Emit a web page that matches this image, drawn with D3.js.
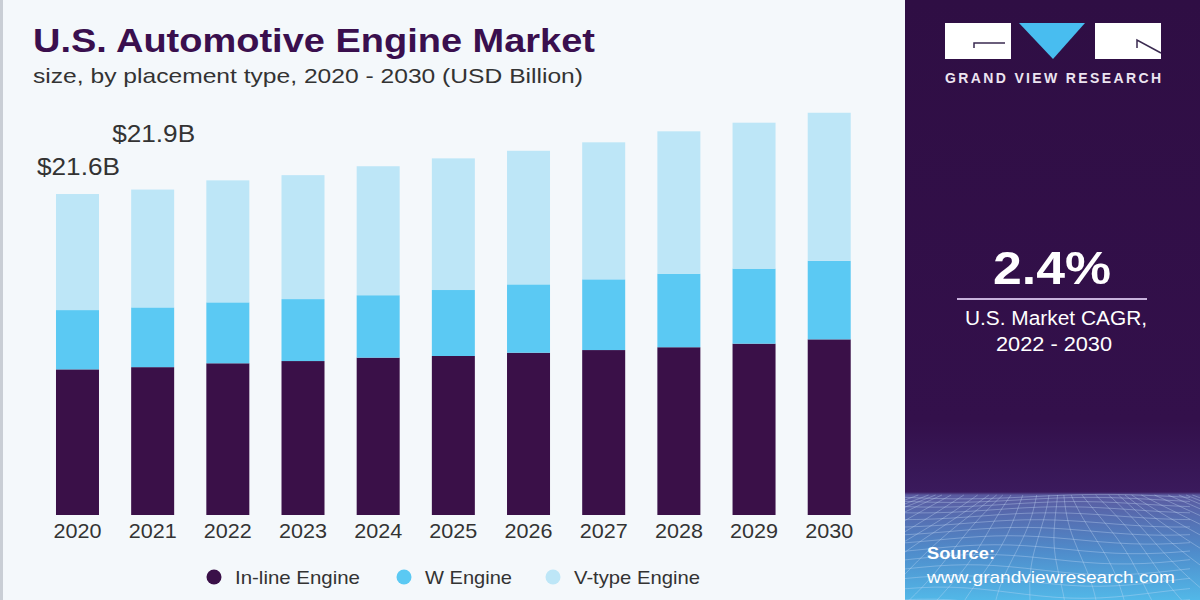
<!DOCTYPE html>
<html>
<head>
<meta charset="utf-8">
<script src="https://cdn.jsdelivr.net/npm/d3@7"></script>
<style>
html,body{margin:0;padding:0;background:#f4f8fb;}
svg{display:block;}
text{font-family:"Liberation Sans",Arial,sans-serif;}
</style>
</head>
<body>
<svg id="chart" width="1200" height="600"></svg>
<script>
// ---- data ----
const years = ["2020","2021","2022","2023","2024","2025","2026","2027","2028","2029","2030"];
const inlineEngine = [9.80, 9.95, 10.21, 10.36, 10.59, 10.70, 10.92, 11.10, 11.29, 11.53, 11.82];
const wEngine      = [3.99, 4.02, 4.10, 4.17, 4.20, 4.44, 4.60, 4.76, 4.95, 5.05, 5.29];
const vtypeEngine  = [7.81, 7.93, 8.21, 8.34, 8.68, 8.86, 8.99, 9.22, 9.58, 9.82, 9.96];
const seriesNames = ["In-line Engine","W Engine","V-type Engine"];
const seriesKeys = ["inline","w","vtype"];
const seriesColors = ["#3a1048","#5bc9f3","#bde6f7"];
const valueLabels = [{year:"2020", text:"$21.6B", lift:19},{year:"2021", text:"$21.9B", lift:48}];

const table = years.map((y,i)=>({year:y, inline:inlineEngine[i], w:wEngine[i], vtype:vtypeEngine[i]}));

const svg = d3.select("#chart");

// background
svg.append("rect").attr("x",0).attr("y",0).attr("width",1200).attr("height",600).attr("fill","#f4f8fb");
svg.append("rect").attr("x",0).attr("y",0).attr("width",3).attr("height",600).attr("fill","#c9ced5");

// ---- right panel ----
const defs = svg.append("defs");
defs.append("clipPath").attr("id","panelClip").append("rect").attr("x",905).attr("y",0).attr("width",295).attr("height",600);
const g1 = defs.append("linearGradient").attr("id","panelGrad").attr("x1",0).attr("y1",0).attr("x2",0).attr("y2",1);
g1.append("stop").attr("offset","0%").attr("stop-color","#2f0e44");
g1.append("stop").attr("offset","70%").attr("stop-color","#33104b");
g1.append("stop").attr("offset","82%").attr("stop-color","#3a1a5c");
g1.append("stop").attr("offset","82.5%").attr("stop-color","#5a5aa0");
g1.append("stop").attr("offset","92%").attr("stop-color","#4f8ccb");
g1.append("stop").attr("offset","100%").attr("stop-color","#52b8e8");
const panel = svg.append("g").attr("clip-path","url(#panelClip)");
panel.append("rect").attr("x",905).attr("y",0).attr("width",295).attr("height",600).attr("fill","url(#panelGrad)");

// mesh decoration
const mesh = panel.append("g").attr("stroke","#c9ddf5").attr("stroke-opacity",0.35).attr("fill","none").attr("stroke-width",1);
const horizon = 495;
for(let k=1;k<=14;k++){
  const t = k/14;
  const yy = horizon + Math.pow(t,1.6)*110;
  const amp = 2 + t*4;
  const line = d3.line().curve(d3.curveBasis);
  const pts = d3.range(905,1201,15).map(xx=>[xx, yy + amp*Math.sin((xx-905)/45 + k*0.3)]);
  mesh.append("path").attr("d",line(pts));
}
for(let k=-12;k<=30;k++){
  const xTop = 905 + k*10;
  const xBot = 1052 + (xTop-1052)*3.2;
  const line = d3.line().curve(d3.curveBasis);
  const pts = d3.range(0,1.01,0.1).map(t=>[xTop + (xBot-xTop)*t + 4*Math.sin(t*5+k), horizon + t*110]);
  mesh.append("path").attr("d",line(pts));
}

// logo
const logo = panel.append("g");
logo.append("rect").attr("x",945).attr("y",23).attr("width",66).attr("height",36).attr("fill","#ffffff");
logo.append("path").attr("d","M974,48 L974,43 L1005,43").attr("stroke","#3a2a50").attr("stroke-width",1.5).attr("fill","none");
logo.append("path").attr("d","M1019,23 L1085,23 L1053,59 Z").attr("fill","#48bdf0");
logo.append("rect").attr("x",1095).attr("y",23).attr("width",66).attr("height",36).attr("fill","#ffffff");
logo.append("path").attr("d","M1137,48 L1137,40 L1161,53").attr("stroke","#3a2a50").attr("stroke-width",1.5).attr("fill","none");
panel.append("text").attr("x",945).attr("y",83).attr("font-size",14).attr("font-weight","bold")
  .attr("fill","#ece4f0").attr("textLength",216).attr("lengthAdjust","spacing").text("GRAND VIEW RESEARCH");

panel.append("text").attr("x",1052).attr("y",284).attr("text-anchor","middle").attr("font-size",46).attr("font-weight","bold")
  .attr("fill","#ffffff").attr("textLength",118).attr("lengthAdjust","spacingAndGlyphs").text("2.4%");
panel.append("line").attr("x1",957).attr("x2",1147).attr("y1",299).attr("y2",299).attr("stroke","#c8b2dc").attr("stroke-width",2);
panel.append("text").attr("x",1056).attr("y",325).attr("text-anchor","middle").attr("font-size",20)
  .attr("fill","#ffffff").attr("textLength",182).attr("lengthAdjust","spacingAndGlyphs").text("U.S. Market CAGR,");
panel.append("text").attr("x",1054).attr("y",351).attr("text-anchor","middle").attr("font-size",20)
  .attr("fill","#ffffff").attr("textLength",116).attr("lengthAdjust","spacingAndGlyphs").text("2022 - 2030");

panel.append("text").attr("x",927).attr("y",559).attr("font-size",17).attr("font-weight","bold")
  .attr("fill","#ffffff").attr("textLength",68).attr("lengthAdjust","spacingAndGlyphs").text("Source:");
panel.append("text").attr("x",927).attr("y",583).attr("font-size",17)
  .attr("fill","#ffffff").attr("textLength",248).attr("lengthAdjust","spacingAndGlyphs").text("www.grandviewresearch.com");

// ---- titles ----
svg.append("text").attr("x",33).attr("y",52).attr("font-size",33).attr("font-weight","bold").attr("fill","#3a0f4e")
  .attr("textLength",562).attr("lengthAdjust","spacingAndGlyphs").text("U.S. Automotive Engine Market");
svg.append("text").attr("x",33).attr("y",83).attr("font-size",21).attr("fill","#333333")
  .attr("textLength",550).attr("lengthAdjust","spacingAndGlyphs").text("size, by placement type, 2020 - 2030 (USD Billion)");

// ---- chart ----
const x = d3.scaleBand().domain(years).range([39.9, 866.8]).paddingInner(0.428).paddingOuter(0.214);
const y = d3.scaleLinear().domain([0,30]).range([515, 515 - 30*14.86]);

const stack = d3.stack().keys(seriesKeys);
const stacked = stack(table);

const bars = svg.append("g");
stacked.forEach((layer,li)=>{
  bars.append("g").attr("fill",seriesColors[li])
    .selectAll("rect").data(layer).join("rect")
    .attr("x",d=>x(d.data.year))
    .attr("y",d=>y(d[1]))
    .attr("width",x.bandwidth())
    .attr("height",d=>y(d[0])-y(d[1]));
});

// value labels
valueLabels.forEach(v=>{
  const i = years.indexOf(v.year);
  const total = inlineEngine[i]+wEngine[i]+vtypeEngine[i];
  svg.append("text").attr("x",x(v.year)+x.bandwidth()/2+1).attr("y",y(total)-v.lift)
    .attr("text-anchor","middle").attr("font-size",24).attr("fill","#333333")
    .attr("textLength",83).attr("lengthAdjust","spacingAndGlyphs").text(v.text);
});

// x axis
const xAxis = svg.append("g").attr("transform","translate(0,515)")
  .call(d3.axisBottom(x).tickSize(0).tickPadding(8));
xAxis.select(".domain").remove();
xAxis.selectAll("text").attr("font-size",21).attr("fill","#333333").attr("dy","0.71em")
  .attr("font-family","Liberation Sans, Arial, sans-serif")
  .attr("textLength",48).attr("lengthAdjust","spacingAndGlyphs");

// legend
const legendX = [214, 404, 553];
const legendW = [125, 87, 126];
const legend = svg.append("g");
seriesNames.forEach((n,i)=>{
  legend.append("circle").attr("cx",legendX[i]).attr("cy",577).attr("r",7.5).attr("fill",seriesColors[i]);
  legend.append("text").attr("x",legendX[i]+21).attr("y",584).attr("font-size",19).attr("fill","#333333")
    .attr("textLength",legendW[i]).attr("lengthAdjust","spacingAndGlyphs").text(n);
});
</script>
</body>
</html>
